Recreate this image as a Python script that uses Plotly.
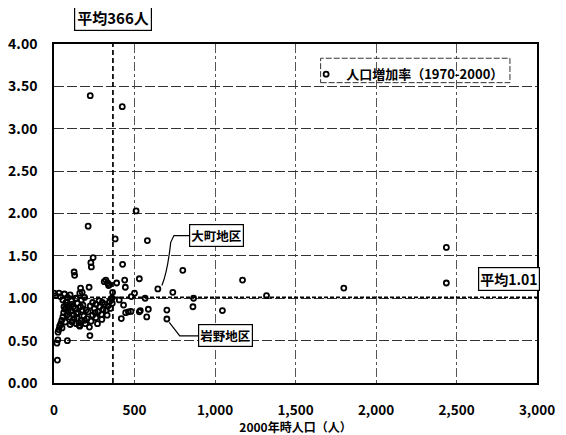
import plotly.graph_objects as go

# ---- data ----
pop_2000 = [
    225, 424, 510, 212, 380, 580, 243, 229, 232, 426, 125, 128, 800, 1171, 530, 322, 333, 339,
    439, 443, 389, 218, 645, 738, 566, 867, 1320, 480, 500, 360, 432, 536, 586, 576, 701, 701,
    863, 1046, 445, 462, 478, 418, 223, 83, 21, 18, 24, 10, 2437, 2437, 1800, 364, 354, 297,
    256, 156, 0, 31, 175, 165, 312, 343, 405, 530,
    40, 55, 65, 75, 85, 95, 100, 110, 120, 135, 145, 160, 170, 180, 190,
    25, 30, 35, 42, 48, 55, 60, 68, 50, 70, 80, 88, 62,
    95, 105, 112, 120, 130, 138, 145, 150, 160, 168, 175, 185, 195, 205, 212, 220, 230, 240,
    250, 260, 270,
    275, 285, 295, 305, 315, 325, 335, 345, 330, 350, 362, 300, 280, 260, 240,
    90, 115, 140, 165, 200, 225, 190, 155, 125, 100, 78,
]
growth_rate = [
    3.39, 3.26, 2.03, 1.85, 1.70, 1.68, 1.48, 1.42, 1.37, 1.40, 1.31, 1.27, 1.33, 1.215, 1.23, 1.215, 1.18, 1.15,
    1.215, 1.13, 1.18, 1.13, 1.11, 1.07, 1.00, 1.00, 1.03, 1.02, 1.06, 1.00, 0.92, 0.855, 0.87, 0.78, 0.86, 0.755,
    0.90, 0.855, 0.83, 0.84, 0.845, 0.76, 0.56, 0.50, 0.27, 0.47, 0.51, 1.03, 1.60, 1.18, 1.12, 1.07, 0.99, 0.75,
    0.83, 0.68, 1.06, 1.06, 1.07, 1.12, 1.195, 1.16, 0.98, 0.84,
    1.02, 0.98, 1.05, 0.95, 1.01, 0.92, 1.04, 0.97, 0.90, 1.00, 0.94, 1.06, 0.98, 0.92, 1.01,
    0.60, 0.63, 0.67, 0.70, 0.74, 0.78, 0.83, 0.87, 0.65, 0.72, 0.80, 0.85, 0.90,
    0.78, 0.85, 0.72, 0.80, 0.88, 0.70, 0.76, 0.83, 0.67, 0.74, 0.86, 0.79, 0.70, 0.76, 0.84, 0.66, 0.73, 0.80,
    0.88, 0.77, 0.70,
    0.84, 0.90, 0.81, 0.87, 0.93, 0.86, 0.91, 0.96, 0.80, 0.88, 0.94, 0.95, 0.97, 0.93, 0.95,
    0.88, 0.93, 0.82, 0.90, 0.86, 0.91, 0.74, 0.71, 0.76, 0.69, 0.92,
]
series_name = "人口増加率（1970-2000）"
mean_pop = 366
mean_rate = 1.01
x_ticks = [0, 500, 1000, 1500, 2000, 2500, 3000]
y_ticks = [0.0, 0.5, 1.0, 1.5, 2.0, 2.5, 3.0, 3.5, 4.0]
x_title = "2000年時人口（人）"
mean_pop_label = "平均366人"
mean_rate_label = "平均1.01"
label_omachi = "大町地区"
label_iwano = "岩野地区"
idx_omachi = 22   # (645, 1.11)
idx_iwano = 35    # (701, 0.755)

FONT = "Noto Sans CJK JP"

fig = go.Figure()
fig.add_trace(go.Scatter(
    x=pop_2000, y=growth_rate, mode="markers", name=series_name,
    marker=dict(symbol="circle-open", size=5, color="black", line=dict(width=1.8, color="black")),
    showlegend=True,
))

# mean lines
fig.add_shape(type="line", xref="x", yref="paper", x0=mean_pop, x1=mean_pop, y0=0, y1=1,
              line=dict(color="black", width=1.7, dash="5px,3px"))
fig.add_shape(type="line", xref="paper", yref="y", x0=0, x1=1, y0=mean_rate, y1=mean_rate,
              line=dict(color="black", width=1.7, dash="4px,2px"))

# legend dashed frame
fig.add_shape(type="rect", xref="paper", yref="paper", x0=0.552, x1=0.944, y0=0.886, y1=0.958,
              line=dict(color="#333", width=1, dash="6px,2px"), fillcolor="rgba(0,0,0,0)")

# leader lines
ox, oy = pop_2000[idx_omachi], growth_rate[idx_omachi]
fig.add_shape(type="path", xref="x", yref="y",
              path=f"M {ox+25},{oy+0.04} Q {ox+60},{oy+0.20} {ox+80},{oy+0.55} L {ox+100},{oy+0.63} L {ox+195},{oy+0.63}",
              line=dict(color="black", width=1.2))
ix, iy = pop_2000[idx_iwano], growth_rate[idx_iwano]
fig.add_shape(type="path", xref="x", yref="y",
              path=f"M {ix+15},{iy-0.04} L {ix+80},{iy-0.20} L {ix+195},{iy-0.20}",
              line=dict(color="black", width=1.2))

fig.add_annotation(x=ox + 195, y=oy + 0.63, xref="x", yref="y", text=f"<b>{label_omachi}</b>",
                   showarrow=False, xanchor="left", yanchor="middle", font=dict(family=FONT, size=12.5, color="black"),
                   bordercolor="black", borderwidth=1.2, borderpad=1, bgcolor="white")
fig.add_annotation(x=ix + 195, y=iy - 0.20, xref="x", yref="y", text=f"<b>{label_iwano}</b>",
                   showarrow=False, xanchor="left", yanchor="middle", font=dict(family=FONT, size=12.5, color="black"),
                   bordercolor="black", borderwidth=1.2, borderpad=1, bgcolor="white")
fig.add_annotation(x=mean_pop, y=1.077, xref="x", yref="paper", text=f"<b>{mean_pop_label}</b>",
                   showarrow=False, xanchor="center", yanchor="middle", font=dict(family=FONT, size=15, color="black"),
                   bordercolor="black", borderwidth=1.2, borderpad=2, bgcolor="white")
fig.add_annotation(x=2826, y=1.23, xref="x", yref="y", text=f"<b>{mean_rate_label}</b>",
                   showarrow=False, xanchor="center", yanchor="middle", font=dict(family=FONT, size=14, color="black"),
                   bordercolor="black", borderwidth=1.2, borderpad=1, bgcolor="white")

fig.update_xaxes(range=[0, 3000], tickvals=x_ticks, tickformat=",", showgrid=True,
                 gridcolor="#555", gridwidth=1, griddash="dashdot",
                 showline=True, mirror=True, linecolor="black", linewidth=1.5,
                 zeroline=False, ticks="", ticklabelstandoff=14, automargin=False,
                 tickfont=dict(family=FONT, size=13.5, color="black", weight="bold"),
                 title=dict(text=f"<b>{x_title}</b>", font=dict(family=FONT, size=12, color="black"), standoff=2))
fig.update_yaxes(range=[0, 4], tickvals=y_ticks, tickformat=".2f", showgrid=True,
                 gridcolor="#333", gridwidth=1, griddash="10px,3px",
                 showline=True, mirror=True, linecolor="black", linewidth=1.5,
                 zeroline=False, ticks="", ticklabelstandoff=12, automargin=False,
                 tickfont=dict(family=FONT, size=14, color="black", weight="bold"))

fig.update_layout(
    width=558, height=427,
    margin=dict(l=46, r=29, t=36, b=52, autoexpand=False),
    paper_bgcolor="white", plot_bgcolor="white",
    font=dict(family=FONT, color="black"),
    legend=dict(x=0.522, y=0.955, xanchor="left", yanchor="top", bgcolor="rgba(0,0,0,0)",
                borderwidth=0, itemwidth=30, font=dict(family=FONT, size=13, color="black", weight="bold"),
                tracegroupgap=0),
)

fig.write_html("out.html")
